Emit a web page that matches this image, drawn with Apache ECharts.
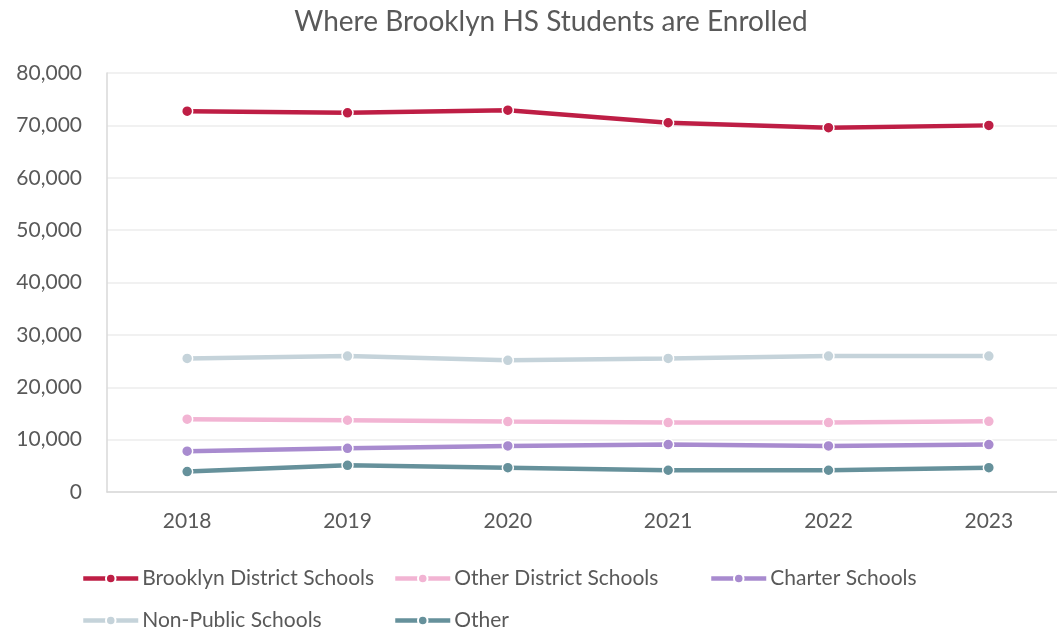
<!DOCTYPE html>
<html>
<head>
<meta charset="utf-8">
<title>Where Brooklyn HS Students are Enrolled</title>
<script src="https://cdn.jsdelivr.net/npm/echarts@6/dist/echarts.min.js"></script>
<style>
  html, body { margin: 0; padding: 0; background: #fff; }
  #chart { width: 1057px; height: 633px; }
</style>
</head>
<body>
<div id="chart"></div>
<script>
// data
const years = ['2018', '2019', '2020', '2021', '2022', '2023'];
const brooklynDistrict = [72700, 72400, 72900, 70500, 69550, 70000];
const otherDistrict = [13900, 13700, 13450, 13250, 13250, 13500];
const charter = [7800, 8350, 8800, 9050, 8800, 9050];
const nonPublic = [25500, 25950, 25150, 25500, 25950, 25950];
const other = [3900, 5100, 4650, 4150, 4150, 4650];

const seriesNames = ['Brooklyn District Schools', 'Other District Schools', 'Charter Schools', 'Non-Public Schools', 'Other'];
const seriesData = [brooklynDistrict, otherDistrict, charter, nonPublic, other];
const colors = ['#BE1E45', '#F2B4D3', '#A88BCF', '#C5D3DA', '#66919B'];

const fontFamily = 'Lato, "Open Sans", sans-serif';
const textColor = '#595959';

const chart = echarts.init(document.getElementById('chart'));

// one legend per entry so the columns line up like the original
const legendPos = [
  { left: 81, top: 568 },
  { left: 393, top: 568 },
  { left: 709, top: 568 },
  { left: 81, top: 610 },
  { left: 393, top: 610 }
];
const legends = seriesNames.map((name, i) => ({
  data: [name],
  left: legendPos[i].left,
  top: legendPos[i].top,
  padding: 0,
  itemWidth: 55,
  itemHeight: 12,
  itemGap: 4,
  lineStyle: { width: 4.5 },
  textStyle: { color: textColor, fontSize: 21, fontFamily: fontFamily, padding: [0, 0, 0, -1] }
}));

chart.setOption({
  animation: false,
  backgroundColor: '#fff',
  color: colors,
  title: {
    text: 'Where Brooklyn HS Students are Enrolled',
    left: 546,
    top: 3,
    textAlign: 'center',
    textStyle: { color: textColor, fontSize: 28, fontWeight: 'normal', fontFamily: fontFamily }
  },
  legend: legends,
  // plot area runs past the right edge of the picture in the original
  grid: { left: 107, width: 962, top: 73, bottom: 141, outerBoundsMode: 'none', containLabel: false },
  xAxis: {
    type: 'category',
    data: years,
    boundaryGap: true,
    axisLine: { lineStyle: { color: '#D9D9D9', width: 1.5 } },
    axisTick: { show: false },
    axisLabel: { color: textColor, fontSize: 21, fontFamily: fontFamily, margin: 19 }
  },
  yAxis: {
    type: 'value',
    min: 0,
    max: 80000,
    interval: 10000,
    axisLine: { show: true, lineStyle: { color: '#D9D9D9', width: 1.5 } },
    axisTick: { show: false },
    splitLine: { lineStyle: { color: '#EDEDED', width: 1.5 } },
    axisLabel: {
      color: textColor,
      fontSize: 21,
      fontFamily: fontFamily,
      margin: 25,
      formatter: v => v.toLocaleString('en-US')
    }
  },
  series: seriesNames.map((name, i) => ({
    name: name,
    type: 'line',
    data: seriesData[i],
    symbol: 'circle',
    symbolSize: 11,
    lineStyle: { width: 4.5, color: colors[i] },
    itemStyle: { color: colors[i], borderColor: '#fff', borderWidth: 1.5 }
  }))
});
</script>
</body>
</html>
